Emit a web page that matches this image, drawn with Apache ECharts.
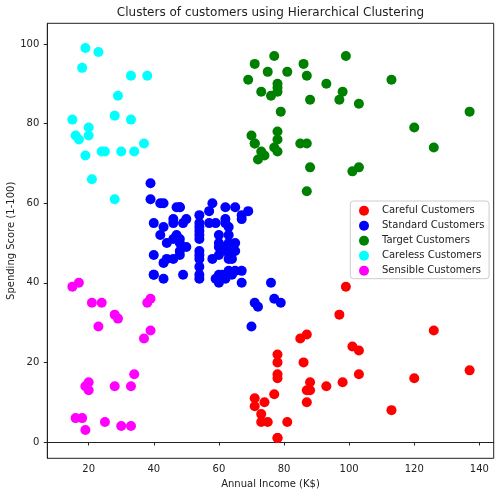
<!DOCTYPE html>
<html>
<head>
<meta charset="utf-8">
<script src="https://cdn.jsdelivr.net/npm/echarts@6/dist/echarts.min.js"></script>
<style>
  html, body { margin: 0; padding: 0; background: #fff; }
  #chart { width: 504px; height: 496px; }
</style>
</head>
<body>
<div id="chart"></div>
<script>
// Cluster points: [annual income (k$), spending score (1-100)]
const carefulPoints = [
    [71, 11], [71, 9], [73, 5], [73, 7], [74, 10], [75, 5], [77, 12], [78, 22],
    [78, 17], [78, 20], [78, 16], [78, 1], [78, 1], [81, 5], [85, 26], [86, 20],
    [87, 27], [87, 13], [87, 10], [88, 13], [88, 15], [93, 14], [97, 32], [98, 15],
    [99, 39], [101, 24], [103, 17], [103, 23], [113, 8], [120, 16], [126, 28], [137, 18]
];
const standardPoints = [
    [39, 61], [39, 65], [40, 55], [40, 47], [40, 42], [40, 42], [42, 52], [42, 60],
    [43, 54], [43, 60], [43, 45], [43, 41], [44, 50], [44, 46], [46, 51], [46, 46],
    [46, 56], [46, 55], [47, 52], [47, 59], [48, 51], [48, 59], [48, 50], [48, 48],
    [48, 59], [48, 47], [49, 55], [49, 42], [50, 49], [50, 56], [54, 47], [54, 54],
    [54, 53], [54, 48], [54, 52], [54, 42], [54, 51], [54, 55], [54, 41], [54, 44],
    [54, 57], [54, 46], [57, 58], [57, 55], [58, 60], [58, 46], [59, 55], [59, 41],
    [60, 49], [60, 40], [60, 42], [60, 52], [60, 47], [60, 50], [61, 42], [61, 49],
    [62, 41], [62, 48], [62, 59], [62, 55], [62, 56], [62, 42], [63, 50], [63, 46],
    [63, 43], [63, 48], [63, 52], [63, 54], [64, 42], [64, 46], [65, 48], [65, 50],
    [65, 43], [65, 59], [67, 43], [67, 57], [67, 56], [67, 40], [69, 58], [70, 29],
    [71, 35], [72, 34], [76, 40], [77, 36], [79, 35]
];
const targetPoints = [
    [69, 91], [70, 77], [71, 95], [71, 75], [71, 75], [72, 71], [73, 88], [73, 73],
    [74, 72], [75, 93], [76, 87], [77, 97], [77, 74], [78, 90], [78, 88], [78, 76],
    [78, 89], [78, 78], [78, 73], [79, 83], [81, 93], [85, 75], [86, 95], [87, 63],
    [87, 75], [87, 92], [88, 86], [88, 69], [93, 90], [97, 86], [98, 88], [99, 97],
    [101, 68], [103, 85], [103, 69], [113, 91], [120, 79], [126, 74], [137, 83]
];
const carelessPoints = [
    [15, 81], [16, 77], [17, 76], [18, 94], [19, 72], [19, 99], [20, 77], [20, 79],
    [21, 66], [23, 98], [24, 73], [25, 73], [28, 82], [28, 61], [29, 87], [30, 73],
    [33, 92], [33, 81], [34, 73], [37, 75], [38, 92]
];
const sensiblePoints = [
    [15, 39], [16, 6], [17, 40], [18, 6], [19, 3], [19, 14], [20, 15], [20, 13],
    [21, 35], [23, 29], [24, 35], [25, 5], [28, 14], [28, 32], [29, 31], [30, 4],
    [33, 4], [33, 14], [34, 17], [37, 26], [38, 35], [39, 36], [39, 28]
];

const clusterNames = ['Careful Customers', 'Standard Customers', 'Target Customers',
    'Careless Customers', 'Sensible Customers'];
const clusterColors = ['#ff0000', '#0000ff', '#008000', '#00ffff', '#ff00ff'];
const clusterPoints = [carefulPoints, standardPoints, targetPoints, carelessPoints, sensiblePoints];

const xTicks = [20, 40, 60, 80, 100, 120, 140];
const yTicks = [0, 20, 40, 60, 80, 100];

const chart = echarts.init(document.getElementById('chart'));
const font = 'DejaVu Sans';
const ink = '#222';

const axisCommon = {
    type: 'value',
    nameLocation: 'middle',
    nameTextStyle: { fontFamily: font, fontSize: 10, color: ink },
    axisLine: { show: true, lineStyle: { color: ink, width: 1 } },
    axisTick: { show: true, length: 3.5, lineStyle: { color: ink, width: 1 } },
    axisLabel: { fontFamily: font, fontSize: 10, color: ink },
    splitLine: { show: false }
};

const option = {
    animation: false,
    title: {
        text: 'Clusters of customers using Hierarchical Clustering',
        left: 265.5,
        top: 2,
        textAlign: 'center',
        textStyle: { fontFamily: font, fontSize: 12, fontWeight: 'normal', color: ink }
    },
    grid: {
        left: 47.3, right: 10.3, top: 23.3, bottom: 37.7,
        outerBoundsMode: 'none',
        containLabel: false,
        show: true, borderColor: ink, borderWidth: 1, backgroundColor: '#fff'
    },
    legend: {
        orient: 'vertical',
        left: 350.3,
        top: 201,
        padding: [4.7, 4.6, 3, 8.7],
        itemGap: 5,
        itemWidth: 10,
        itemHeight: 10,
        icon: 'circle',
        backgroundColor: 'rgba(255,255,255,0.8)',
        borderColor: '#cccccc',
        borderWidth: 1,
        borderRadius: 3,
        textStyle: { fontFamily: font, fontSize: 10, color: ink, padding: [0, 0, 0, 8] },
        data: clusterNames
    },
    xAxis: Object.assign({}, axisCommon, {
        name: 'Annual Income (K$)',
        nameGap: 20,
        min: 7.3,
        max: 144.4,
        axisTick: Object.assign({}, axisCommon.axisTick, { customValues: xTicks }),
        axisLabel: Object.assign({}, axisCommon.axisLabel, { customValues: xTicks, margin: 6 })
    }),
    yAxis: Object.assign({}, axisCommon, {
        name: 'Spending Score (1-100)',
        nameGap: 31,
        nameMoveOverlap: false,
        min: -4.1,
        max: 105.2,
        axisTick: Object.assign({}, axisCommon.axisTick, { customValues: yTicks }),
        axisLabel: Object.assign({}, axisCommon.axisLabel, { customValues: yTicks, margin: 8 })
    }),
    series: clusterNames.map((name, i) => ({
        name: name,
        type: 'scatter',
        symbol: 'circle',
        symbolSize: 10,
        itemStyle: { color: clusterColors[i], opacity: 1 },
        emphasis: { disabled: true },
        data: clusterPoints[i]
    }))
};

chart.setOption(option);
</script>
</body>
</html>
